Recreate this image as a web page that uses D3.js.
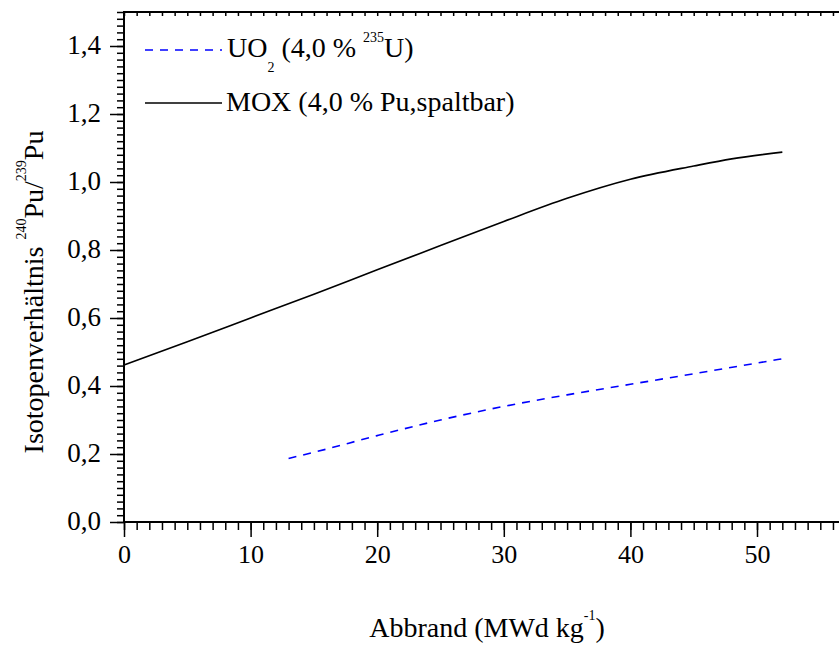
<!DOCTYPE html>
<html>
<head>
<meta charset="utf-8">
<script src="https://cdn.jsdelivr.net/npm/d3@7"></script>
<style>
  body { margin: 0; background: #fff; }
  svg text { font-family: "Liberation Serif", "Times New Roman", Tinos, Times, "DejaVu Serif", serif; fill: #000; }
  .axis path, .axis line { stroke: #000; }
</style>
</head>
<body>
<div id="vis"></div>
<script>

// burnup (MWd/kg) and 240Pu/239Pu ratio
var moxBurnup = [0, 5, 10, 15, 20, 25, 30, 35, 40, 45, 48, 52];
var moxRatio  = [0.462, 0.530, 0.600, 0.670, 0.742, 0.813, 0.884, 0.952, 1.008, 1.047, 1.068, 1.088];

var uo2Burnup = [13, 15, 20, 25, 30, 35, 40, 45, 52];
var uo2Ratio  = [0.187, 0.205, 0.254, 0.300, 0.340, 0.374, 0.405, 0.436, 0.480];

var xTicks = [0, 10, 20, 30, 40, 50];
var yTicks = [0, 0.2, 0.4, 0.6, 0.8, 1.0, 1.2, 1.4];

var width = 839;
var height = 645;
var margin = { left: 124, top: 12 };
var plotBottom = 522;
var fontFam = '"Liberation Serif", "Times New Roman", Tinos, Times, "DejaVu Serif", serif';

var x = d3.scaleLinear().domain([0, 60]).range([margin.left, margin.left + 60 * 12.66]);
var y = d3.scaleLinear().domain([0, 1.5]).range([plotBottom, margin.top]);

var de = d3.formatLocale({ decimal: ",", thousands: ".", grouping: [3], currency: ["", " €"] });
var fmt1 = de.format(".1f");

var svg = d3.select('#vis').append('svg')
    .attr('width', width)
    .attr('height', height)
    .attr('font-family', fontFam);

function zip(xs, ys) {
    return xs.map(function (d, i) { return { x: d, y: ys[i] }; });
}

function plain(g) {
    g.select('.domain').remove();
    g.selectAll('line').attr('stroke-width', 1.5);
    g.attr('font-family', fontFam);
}

// minor ticks first, majors on top
svg.append('g')
    .attr('class', 'axis')
    .attr('transform', 'translate(' + margin.left + ',0)')
    .call(d3.axisLeft(y).tickValues(d3.range(0, 1.5001, 0.02)).tickSize(7).tickSizeOuter(0).tickFormat(''))
    .call(plain);

svg.append('g')
    .attr('class', 'axis')
    .attr('transform', 'translate(0,' + plotBottom + ')')
    .call(d3.axisBottom(x).tickValues(d3.range(0, 61, 1)).tickSize(8).tickSizeOuter(0).tickFormat(''))
    .call(plain);

// top axis, inward ticks
svg.append('g')
    .attr('class', 'axis')
    .attr('transform', 'translate(0,' + margin.top + ')')
    .call(d3.axisBottom(x).tickValues(d3.range(0, 61, 1)).tickSize(4).tickSizeOuter(0).tickFormat(''))
    .call(plain);

var yAxis = svg.append('g')
    .attr('class', 'axis')
    .attr('transform', 'translate(' + margin.left + ',0)')
    .call(d3.axisLeft(y).tickValues(yTicks).tickSize(14).tickSizeOuter(0).tickPadding(9).tickFormat(fmt1))
    .call(plain);
yAxis.selectAll('text').attr('font-size', 27).attr('dy', '0.28em');

var xAxis = svg.append('g')
    .attr('class', 'axis')
    .attr('transform', 'translate(0,' + plotBottom + ')')
    .call(d3.axisBottom(x).tickValues(xTicks).tickSize(15).tickSizeOuter(0).tickPadding(8).tickFormat(d3.format('d')))
    .call(plain);
xAxis.selectAll('text').attr('font-size', 26);

// frame
svg.append('path')
    .attr('d', 'M' + x(60) + ',' + y(1.5) + 'H' + x(0) + 'V' + y(0) + 'H' + x(60))
    .attr('fill', 'none')
    .attr('stroke', '#000')
    .attr('stroke-width', 2);

var line = d3.line()
    .x(function (d) { return x(d.x); })
    .y(function (d) { return y(d.y); })
    .curve(d3.curveMonotoneX);

svg.append('path')
    .datum(zip(moxBurnup, moxRatio))
    .attr('d', line)
    .attr('fill', 'none')
    .attr('stroke', '#000')
    .attr('stroke-width', 1.6);

svg.append('path')
    .datum(zip(uo2Burnup, uo2Ratio))
    .attr('d', line)
    .attr('fill', 'none')
    .attr('stroke', '#0000ff')
    .attr('stroke-width', 1.6)
    .attr('stroke-dasharray', '8,7');

// legend
var legend = svg.append('g');
legend.append('line')
    .attr('x1', 145).attr('x2', 222).attr('y1', 50).attr('y2', 50)
    .attr('stroke', '#0000ff').attr('stroke-width', 1.6).attr('stroke-dasharray', '8,7');
var t1 = legend.append('text').attr('x', 227).attr('y', 57).attr('font-size', 28);
t1.append('tspan').text('UO');
t1.append('tspan').attr('font-size', 14).attr('dy', 15).text('2');
t1.append('tspan').attr('dy', -15).text(' (4,0 % ');
t1.append('tspan').attr('font-size', 14).attr('dy', -15).text('235');
t1.append('tspan').attr('dy', 15).text('U)');

legend.append('line')
    .attr('x1', 145).attr('x2', 222).attr('y1', 103).attr('y2', 103)
    .attr('stroke', '#000').attr('stroke-width', 1.6);
legend.append('text').attr('x', 226).attr('y', 111).attr('font-size', 28)
    .text('MOX (4,0 % Pu,spaltbar)');

// axis titles
var xt = svg.append('text')
    .attr('x', 487).attr('y', 637)
    .attr('text-anchor', 'middle')
    .attr('font-size', 28);
xt.append('tspan').text('Abbrand (MWd kg');
xt.append('tspan').attr('font-size', 14).attr('dy', -17).text('-1');
xt.append('tspan').attr('dy', 17).text(')');

var yt = svg.append('text')
    .attr('transform', 'translate(43,292) rotate(-90)')
    .attr('text-anchor', 'middle')
    .attr('font-size', 28);
yt.append('tspan').text('Isotopenverhältnis ');
yt.append('tspan').attr('font-size', 14).attr('dy', -17).text('240');
yt.append('tspan').attr('dy', 17).text('Pu/');
yt.append('tspan').attr('font-size', 14).attr('dy', -17).text('239');
yt.append('tspan').attr('dy', 17).text('Pu');

</script>
</body>
</html>
